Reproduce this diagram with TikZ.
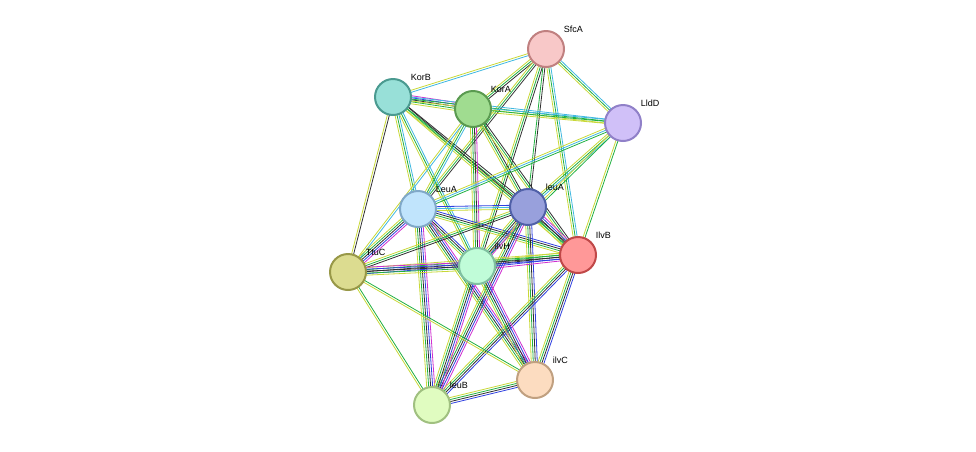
\documentclass[tikz,border=0pt]{standalone}
\usepackage{fontspec}
\setmainfont{Liberation Sans}
\usetikzlibrary{calc}
\definecolor{cy}{HTML}{C8D838}
\definecolor{cc}{HTML}{40B8E0}
\definecolor{cg}{HTML}{20B040}
\definecolor{ck}{HTML}{303030}
\definecolor{cb}{HTML}{3040E0}
\definecolor{cm}{HTML}{D030D0}
\newcommand\lnk[3]{%
  \foreach \c [count=\n] in {#3}{\xdef\nn{\n}}
  \foreach \c [count=\i] in {#3}{
    \pgfmathsetmacro\o{(\i-(\nn+1)/2)*2.0}
    \draw[draw=\c] ($(#1)!\o pt!90:(#2)$) -- ($(#2)!\o pt!-90:(#1)$);
  }}
\begin{document}
\begin{tikzpicture}[x=1pt,y=-1pt,line width=0.8pt,
    prot/.style={circle, minimum size=36pt, inner sep=0pt, line width=2pt},
    every label/.style={font=\fontsize{9}{11}\selectfont, inner sep=0pt, xshift=4pt, yshift=3pt}
]
\useasboundingbox (0,0) rectangle (976,451);

% proteins
\coordinate (SfcA) at (546,49);
\coordinate (KorB) at (393,97);
\coordinate (KorA) at (473,109);
\coordinate (LldD) at (623,123);
\coordinate (LeuA) at (418,209);
\coordinate (leuA) at (528,207);
\coordinate (IlvB) at (578,255);
\coordinate (TtuC) at (348,272);
\coordinate (ilvH) at (477,266);
\coordinate (ilvC) at (535,380);
\coordinate (leuB) at (432,405);

% evidence links
\lnk{SfcA}{KorB}{cy,cc}
\lnk{SfcA}{KorA}{cy,cg,ck}
\lnk{SfcA}{LldD}{cy,cg,cc}
\lnk{SfcA}{LeuA}{cy,cg,ck}
\lnk{SfcA}{leuA}{cg,ck}
\lnk{SfcA}{IlvB}{cy,cg,cc}
\lnk{SfcA}{ilvH}{cy,cg,ck}
\lnk{KorB}{KorA}{cy,cg,ck,cb,cm}
\lnk{KorB}{LldD}{cy,cg,cc}
\lnk{KorB}{LeuA}{cy,cg,cc}
\lnk{KorB}{leuA}{cy,cg,ck}
\lnk{KorB}{IlvB}{cy,cg,ck}
\lnk{KorB}{ilvH}{cy,cg,cc}
\lnk{KorB}{TtuC}{cy,ck}
\lnk{KorA}{LldD}{cy,cg,cc}
\lnk{KorA}{LeuA}{cy,cg,cc}
\lnk{KorA}{leuA}{cy,cg,ck}
\lnk{KorA}{IlvB}{cy,cg,ck}
\lnk{KorA}{ilvH}{cy,cg,ck,cm}
\lnk{KorA}{TtuC}{cy,cc}
\lnk{LldD}{LeuA}{cy,cc,cg}
\lnk{LldD}{leuA}{cy,cg,cc}
\lnk{LldD}{IlvB}{cy,cg}
\lnk{LldD}{ilvH}{cy,cg}
\lnk{LeuA}{leuA}{cy,cc,cb}
\lnk{LeuA}{IlvB}{cy,cg,ck,cb}
\lnk{LeuA}{TtuC}{cy,cg,ck,cb,cm}
\lnk{LeuA}{ilvH}{cy,cg,ck,cb}
\lnk{LeuA}{ilvC}{cy,cg,ck,cb,cm}
\lnk{LeuA}{leuB}{cy,cg,ck,cb,cm}
\lnk{leuA}{IlvB}{cy,cg,ck,cb,cm}
\lnk{leuA}{TtuC}{cy,cg,ck}
\lnk{leuA}{ilvH}{cy,cg,ck,cb,cm}
\lnk{leuA}{ilvC}{cy,cg,ck,cb}
\lnk{leuA}{leuB}{cy,cg,ck,cb,cm}
\lnk{IlvB}{ilvH}{cy,cg,ck,cb,cm}
\lnk{IlvB}{TtuC}{cy,cg,ck,cb}
\lnk{IlvB}{ilvC}{cy,cg,ck,cb}
\lnk{IlvB}{leuB}{cy,cg,ck,cb}
\lnk{TtuC}{ilvH}{cy,cg,ck,cb,cm}
\lnk{TtuC}{ilvC}{cy,cg}
\lnk{TtuC}{leuB}{cy,cg}
\lnk{ilvH}{ilvC}{cy,cg,ck,cb,cm}
\lnk{ilvH}{leuB}{cy,cg,ck,cb,cm}
\lnk{ilvC}{leuB}{cy,cg,ck,cb}

% nodes
\node[prot, fill={rgb,255:red,248;green,200;blue,200}, draw={rgb,255:red,192;green,128;blue,128}, label=45:SfcA] (nSfcA) at (SfcA) {};
\node[prot, fill={rgb,255:red,152;green,224;blue,216}, draw={rgb,255:red,74;green,154;blue,144}, label=45:KorB] (nKorB) at (KorB) {};
\node[prot, fill={rgb,255:red,160;green,220;blue,144}, draw={rgb,255:red,90;green,154;blue,80}, label=45:KorA] (nKorA) at (KorA) {};
\node[prot, fill={rgb,255:red,208;green,192;blue,248}, draw={rgb,255:red,144;green,128;blue,200}, label=45:LldD] (nLldD) at (LldD) {};
\node[prot, fill={rgb,255:red,192;green,228;blue,252}, draw={rgb,255:red,128;green,168;blue,200}, label=45:LeuA] (nLeuA) at (LeuA) {};
\node[prot, fill={rgb,255:red,152;green,160;blue,220}, draw={rgb,255:red,80;green,96;blue,168}, label=45:leuA] (nleuA) at (leuA) {};
\node[prot, fill={rgb,255:red,255;green,152;blue,152}, draw={rgb,255:red,192;green,72;blue,72}, label=45:IlvB] (nIlvB) at (IlvB) {};
\node[prot, fill={rgb,255:red,220;green,220;blue,144}, draw={rgb,255:red,152;green,152;blue,72}, label=45:TtuC] (nTtuC) at (TtuC) {};
\node[prot, fill={rgb,255:red,192;green,252;blue,216}, draw={rgb,255:red,128;green,192;blue,160}, label=45:ilvH] (nilvH) at (ilvH) {};
\node[prot, fill={rgb,255:red,252;green,220;blue,192}, draw={rgb,255:red,192;green,160;blue,128}, label=45:ilvC] (nilvC) at (ilvC) {};
\node[prot, fill={rgb,255:red,224;green,252;blue,192}, draw={rgb,255:red,160;green,192;blue,128}, label=45:leuB] (nleuB) at (leuB) {};
\end{tikzpicture}
\end{document}
